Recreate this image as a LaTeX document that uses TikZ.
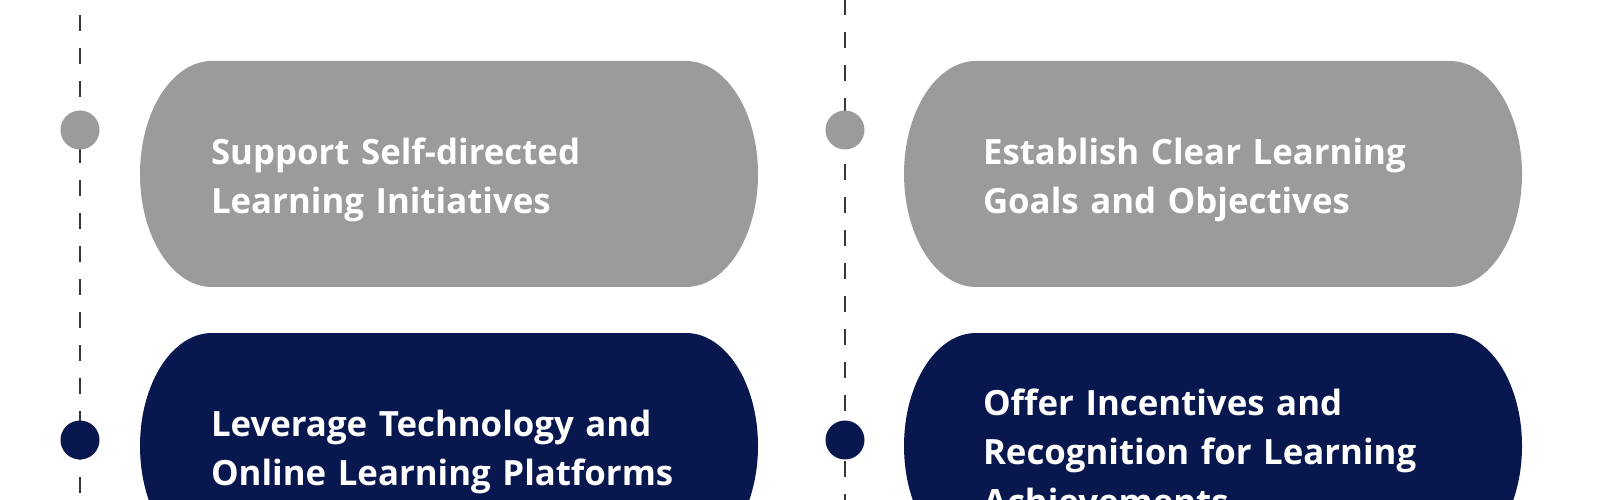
\documentclass[tikz,border=0pt]{standalone}
\usepackage{fontspec}
\setmainfont{Open Sans}
\usepackage{tikz}
\definecolor{pillgray}{RGB}{155,155,155}
\definecolor{pillnavy}{RGB}{8,23,77}
\definecolor{linegray}{RGB}{55,55,55}
\tikzstyle{pill}=[rectangle, inner sep=0pt, inner xsep=0.71cm, text width=4.76cm, minimum height=2.26cm, align=left, text=white, font=\fontsize{9.9}{14}\selectfont\bfseries, execute at begin node={\rule{0pt}{10.8pt}}]
\tikzstyle{graypill}=[pill, path picture={\fill[pillgray] ([xshift=0.72cm]path picture bounding box.north west) -- ([xshift=-0.72cm]path picture bounding box.north east) arc[start angle=90, end angle=-90, x radius=0.72cm, y radius=1.13cm] -- ([xshift=0.72cm]path picture bounding box.south west) arc[start angle=270, end angle=90, x radius=0.72cm, y radius=1.13cm] -- cycle;}]
\tikzstyle{navypill}=[pill, path picture={\fill[pillnavy] ([xshift=0.72cm]path picture bounding box.north west) -- ([xshift=-0.72cm]path picture bounding box.north east) arc[start angle=90, end angle=-90, x radius=0.72cm, y radius=1.13cm] -- ([xshift=0.72cm]path picture bounding box.south west) arc[start angle=270, end angle=90, x radius=0.72cm, y radius=1.13cm] -- cycle;}]
\tikzstyle{rightcol}=[inner xsep=0.79cm, text width=4.60cm]
\tikzstyle{dot}=[circle, inner sep=0pt, minimum size=0.39cm]
\tikzstyle{timeline}=[linegray, line width=0.8pt, dash pattern=on 0.16cm off 0.17cm]

\begin{document}
\begin{tikzpicture}

\clip (0,0) rectangle (16,-5);

% Timelines
\coordinate (ltop) at (0.80,0);
\coordinate (lbot) at (0.80,-5);
\coordinate (rtop) at (8.45,0);
\coordinate (rbot) at (8.45,-5);
\draw[timeline, dash phase=0.18cm] (ltop) -- (lbot);
\draw[timeline, dash phase=0.01cm] (rtop) -- (rbot);

% Dots
\node[dot, fill=pillgray] (dot1) at (0.80,-1.30) {};
\node[dot, fill=pillnavy] (dot2) at (0.80,-4.40) {};
\node[dot, fill=pillgray] (dot3) at (8.45,-1.30) {};
\node[dot, fill=pillnavy] (dot4) at (8.45,-4.40) {};

% Left column
\node[graypill] (selfdir) at (4.49,-1.74) {Support Self-directed\\Learning Initiatives};
\node[navypill] (tech) at (4.49,-4.46) {Leverage Technology and\\Online Learning Platforms};

% Right column
\node[graypill, rightcol] (goals) at (12.13,-1.74) {Establish Clear Learning\\Goals and Objectives};
\node[navypill, rightcol] (reward) at (12.13,-4.46) {Offer Incentives and\\Recognition for Learning\\Achievements};

\end{tikzpicture}
\end{document}
